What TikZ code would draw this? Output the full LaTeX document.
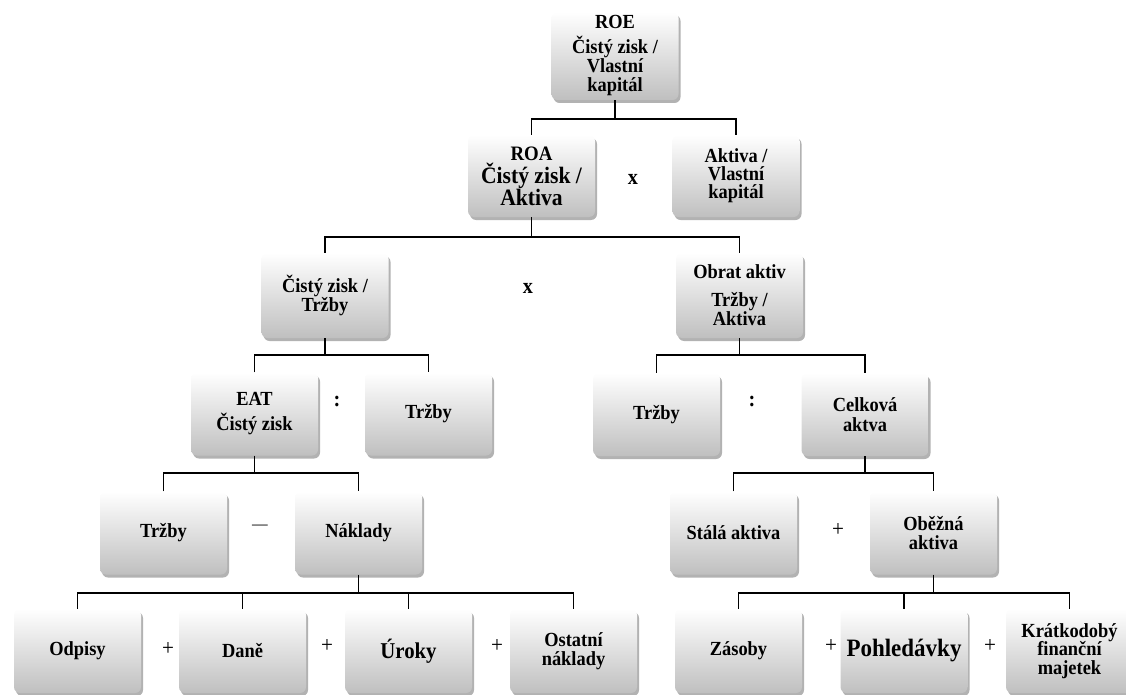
\documentclass[tikz,border=0pt]{standalone}
\usepackage{fontspec}
\setmainfont{Liberation Serif}[FakeStretch=0.92]
\usetikzlibrary{shadows}
\begin{document}
\begin{tikzpicture}[x=1pt,y=-1pt,
  box/.style={rounded corners=6pt, top color=white, bottom color=black!25, draw=none,
    minimum width=127pt, minimum height=83pt, align=center, inner sep=2pt,
    font=\bfseries\fontsize{20}{19}\selectfont,
    drop shadow={shadow xshift=2pt, shadow yshift=-3pt, opacity=0.3, fill=black}},
  conn/.style={draw=black, line width=1.6pt},
  op/.style={font=\bfseries\fontsize{22}{22}\selectfont, inner sep=0pt},
  plus/.style={font=\fontsize{23}{23}\selectfont, inner sep=0pt}]
\clip (0,0) rectangle (1126,695);
% nodes
\node[box, minimum height=88pt] (roe) at (615,56) {ROE\\[6pt]Čistý zisk /\\Vlastní\\kapitál};
\node[box, minimum height=82pt, font=\bfseries\fontsize{23.5}{22}\selectfont] (roa) at (531.5,176) {{\fontsize{20.5}{20}\selectfont ROA}\\[1pt]Čistý zisk /\\Aktiva};
\node[box, minimum height=82pt, font=\bfseries\fontsize{20}{18}\selectfont] (akt) at (736,176) {Aktiva /\\Vlastní\\kapitál};
\node[box, minimum height=85pt] (czt) at (325,295.5) {Čistý zisk /\\Tržby};
\node[box, minimum height=85pt] (obr) at (739.5,295.5) {Obrat aktiv\\[9pt]Tržby /\\Aktiva};
\node[box] (eat) at (254.5,414) {EAT\\[6pt]Čistý zisk};
\node[box] (trza) at (428.5,414) {Tržby};
\node[box] (trzb) at (656.5,414.5) {Tržby};
\node[box, font=\bfseries\fontsize{20}{20}\selectfont] (cel) at (865,414.5) {Celková\\aktva};
\node[box] (trzc) at (163.5,533) {Tržby};
\node[box] (nak) at (358.5,533) {Náklady};
\node[box] (sta) at (733.5,533) {Stálá aktiva};
\node[box] (obe) at (933.5,533) {Oběžná\\aktiva};
\node[box, minimum height=84pt] (odp) at (77.5,651) {Odpisy};
\node[box, minimum height=84pt] (dan) at (242.5,651) {Daně};
\node[box, minimum height=84pt, font=\bfseries\fontsize{22.6}{22}\selectfont] (uro) at (408.5,651) {Úroky};
\node[box, minimum height=84pt] (ost) at (573.5,651) {Ostatní\\náklady};
\node[box, minimum height=84pt] (zas) at (738.5,651) {Zásoby};
\node[box, minimum height=84pt, font=\bfseries\fontsize{25}{25}\selectfont] (poh) at (904,651) {Pohledávky};
\node[box, minimum height=84pt, font=\bfseries\fontsize{20}{18.5}\selectfont] (kra) at (1069.5,651) {Krátkodobý\\finanční\\majetek};
% operators
\node[op] (o1) at (633,179) {x};
\node[op] (o2) at (528,288) {x};
\node[op] (o3) at (337,401) {:};
\node[op] (o4) at (752,401) {:};
\node[font=\fontsize{17}{17}\selectfont, inner sep=0pt] (o5) at (260,527) {\textemdash};
\node[plus] (o6) at (838,530) {+};
\node[plus] (o7) at (168,649) {+};
\node[plus] (o8) at (327,646) {+};
\node[plus] (o9) at (497,646) {+};
\node[plus] (o10) at (831,646) {+};
\node[plus] (o11) at (990,646) {+};
% bar levels
\coordinate (h1) at (0,119);
\coordinate (h2) at (0,237);
\coordinate (h3) at (0,355);
\coordinate (h4) at (0,473);
\coordinate (h5) at (0,593);
% connectors
\draw[conn] (roe.south) -- (roe.south |- h1);
\draw[conn] (roa.north) |- (akt.north |- h1) -- (akt.north);
\draw[conn] (roa.south) -- (roa.south |- h2);
\draw[conn] (czt.north) |- (obr.north |- h2) -- (obr.north);
\draw[conn] (czt.south) -- (czt.south |- h3);
\draw[conn] (eat.north) |- (trza.north |- h3) -- (trza.north);
\draw[conn] (obr.south) -- (obr.south |- h3);
\draw[conn] (trzb.north) |- (cel.north |- h3) -- (cel.north);
\draw[conn] (eat.south) -- (eat.south |- h4);
\draw[conn] (trzc.north) |- (nak.north |- h4) -- (nak.north);
\draw[conn] (cel.south) -- (cel.south |- h4);
\draw[conn] (sta.north) |- (obe.north |- h4) -- (obe.north);
\draw[conn] (nak.south) -- (nak.south |- h5);
\draw[conn] (odp.north) |- (ost.north |- h5) -- (ost.north);
\draw[conn] (dan.north) -- (dan.north |- h5);
\draw[conn] (uro.north) -- (uro.north |- h5);
\draw[conn] (obe.south) -- (obe.south |- h5);
\draw[conn] (zas.north) |- (kra.north |- h5) -- (kra.north);
\draw[conn] (poh.north) -- (poh.north |- h5);
\end{tikzpicture}
\end{document}
